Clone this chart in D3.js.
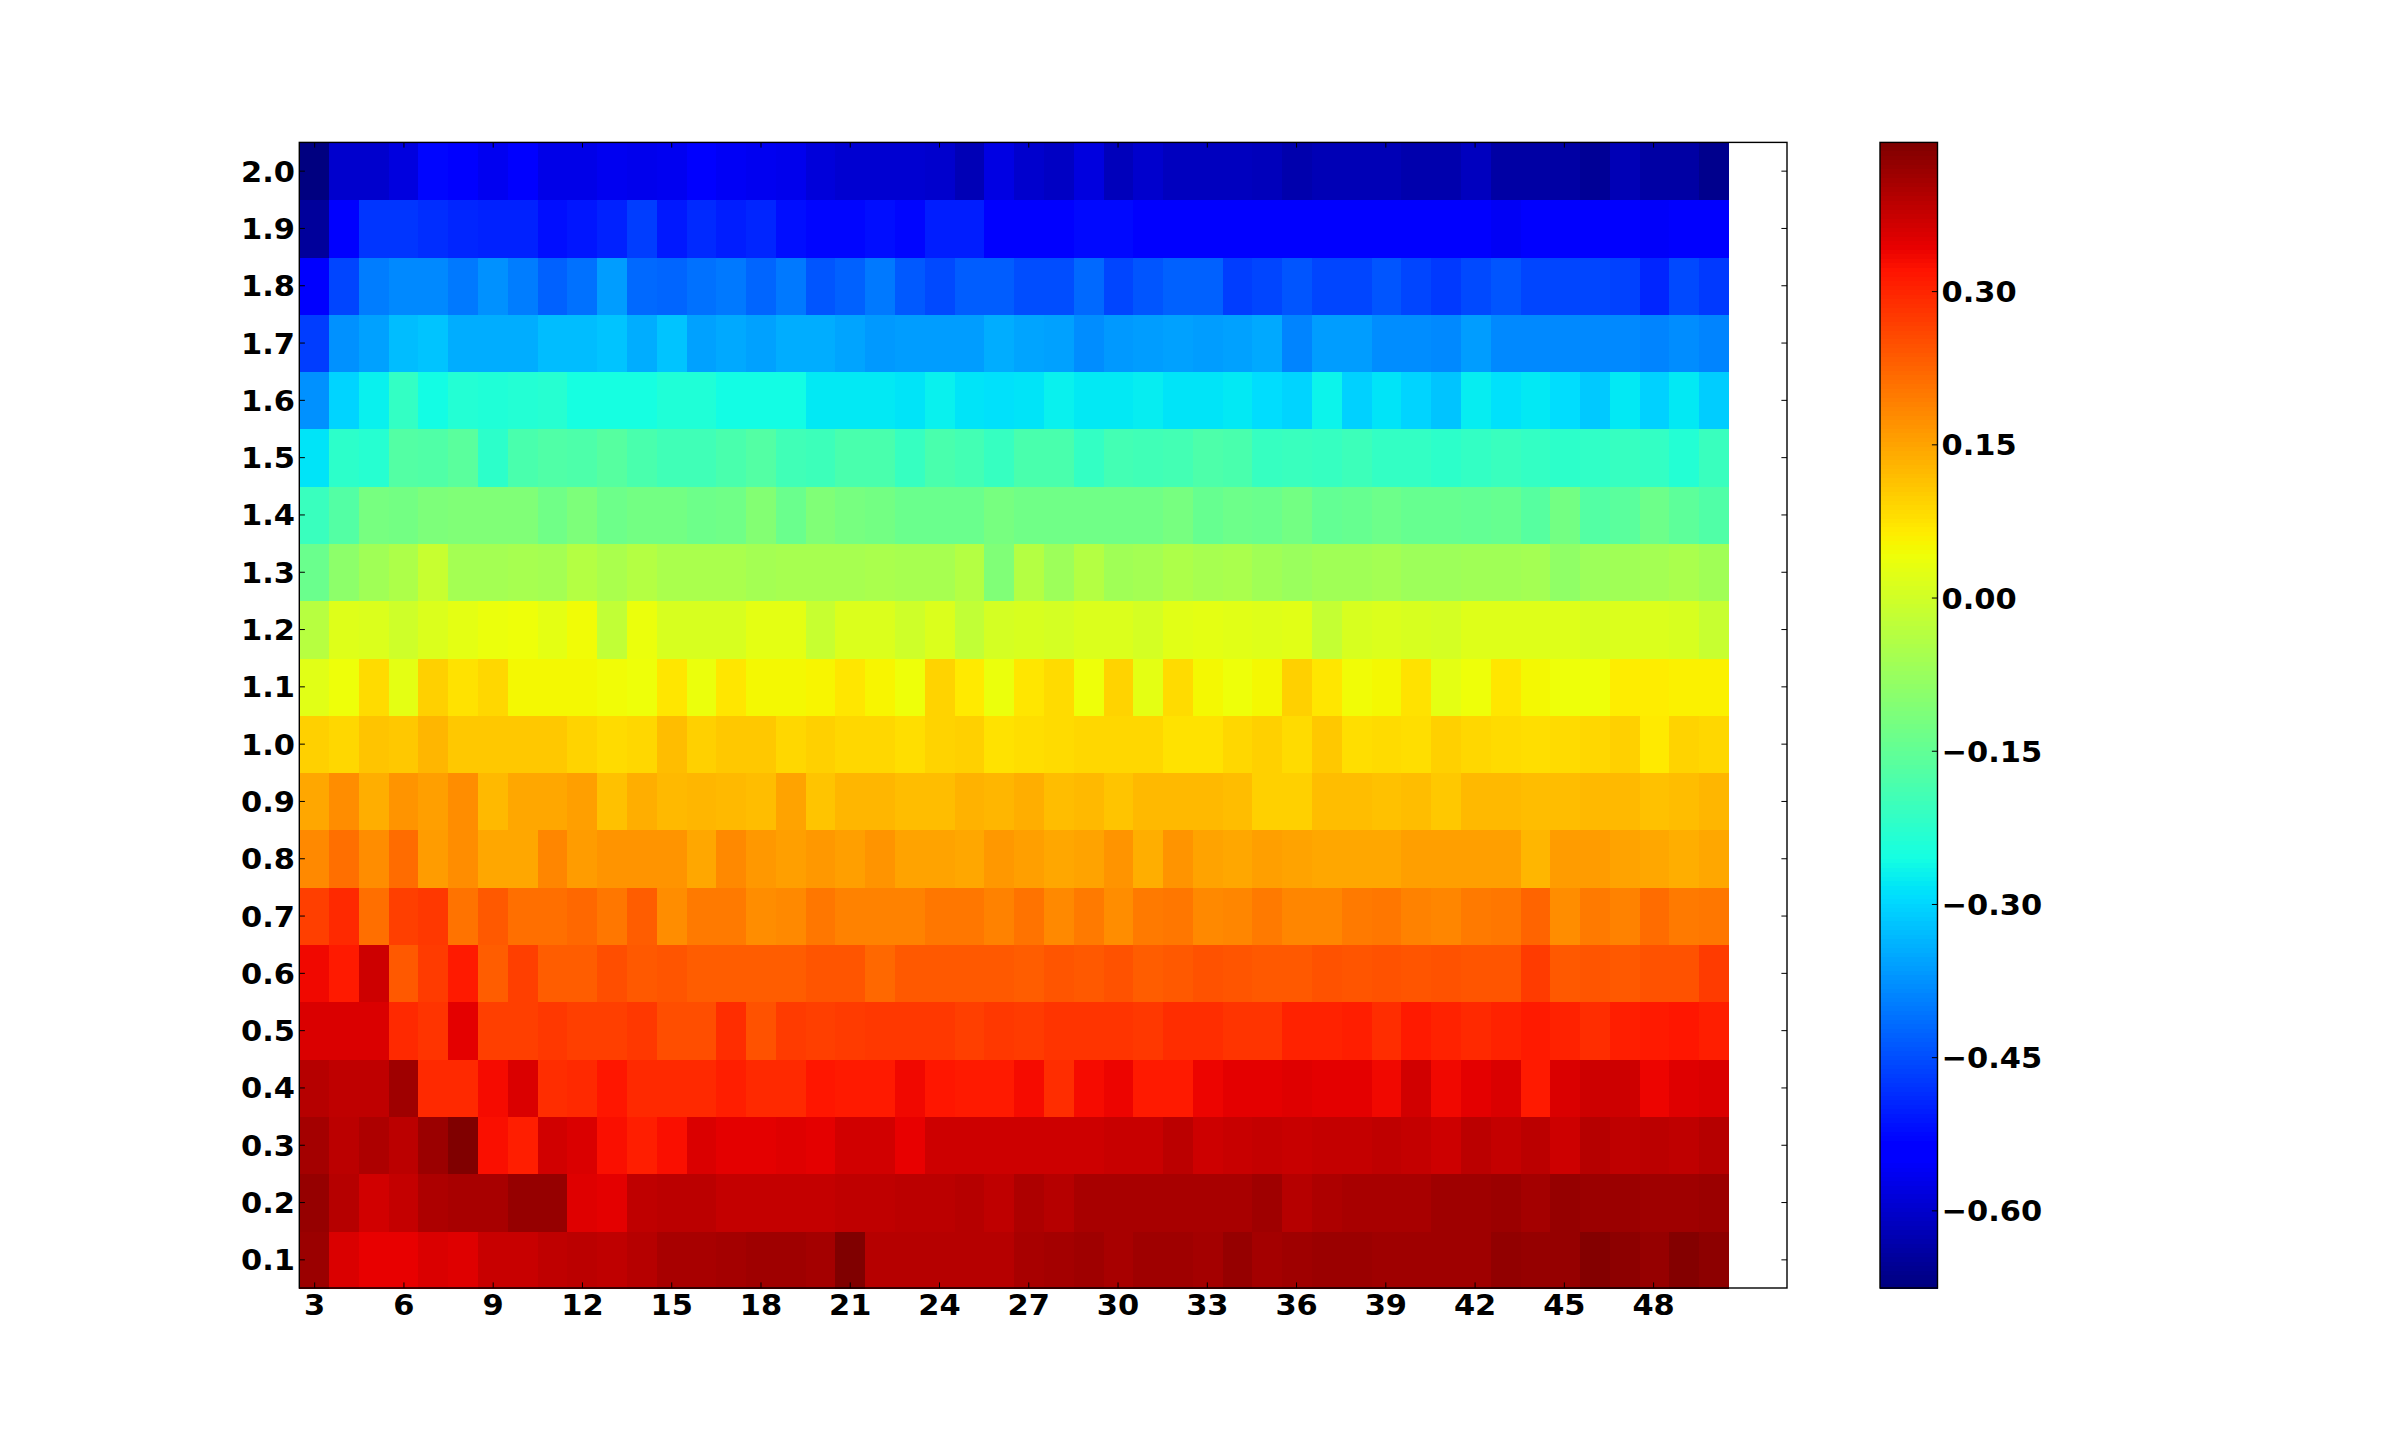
<!DOCTYPE html>
<html><head><meta charset="utf-8">
<script src="https://cdn.jsdelivr.net/npm/d3@7"></script>
<style>html,body{margin:0;padding:0;background:#fff}svg{display:block}</style></head><body>
<script>
const periods = d3.range(3, 51);
const levels = [0.1,0.2,0.3,0.4,0.5,0.6,0.7,0.8,0.9,1.0,1.1,1.2,1.3,1.4,1.5,1.6,1.7,1.8,1.9,2.0];
const xTicks = [3,6,9,12,15,18,21,24,27,30,33,36,39,42,45,48];
const cbTicks = [-0.60,-0.45,-0.30,-0.15,0,0.15,0.30];
const vMin = -0.676, vMax = 0.446;

const r20 = [-.676,-.60,-.60,-.585,-.53,-.55,-.565,-.54,-.575,-.575,-.565,-.57,-.565,-.55,-.56,-.565,-.57,-.59,-.595,-.595,-.595,-.60,-.625,-.58,-.60,-.61,-.585,-.62,-.60,-.615,-.615,-.615,-.62,-.63,-.625,-.625,-.625,-.63,-.63,-.615,-.64,-.64,-.64,-.655,-.625,-.64,-.64,-.665];
const r19 = [-.65,-.545,-.48,-.48,-.485,-.495,-.50,-.50,-.52,-.515,-.50,-.47,-.51,-.49,-.505,-.495,-.52,-.53,-.53,-.52,-.53,-.505,-.505,-.545,-.545,-.545,-.525,-.525,-.545,-.545,-.535,-.545,-.535,-.55,-.55,-.54,-.55,-.55,-.55,-.55,-.56,-.55,-.55,-.55,-.55,-.555,-.55,-.55];
const r18 = [-.55,-.46,-.40,-.385,-.385,-.405,-.375,-.40,-.43,-.41,-.365,-.42,-.425,-.41,-.405,-.425,-.405,-.445,-.43,-.405,-.44,-.455,-.435,-.435,-.45,-.45,-.42,-.46,-.445,-.43,-.43,-.47,-.46,-.445,-.46,-.46,-.445,-.46,-.475,-.455,-.445,-.46,-.46,-.46,-.465,-.495,-.455,-.475];
const r17 = [-.47,-.375,-.36,-.33,-.32,-.345,-.345,-.345,-.33,-.33,-.32,-.345,-.32,-.36,-.35,-.36,-.345,-.345,-.355,-.37,-.365,-.365,-.365,-.345,-.355,-.36,-.38,-.37,-.365,-.36,-.365,-.36,-.35,-.39,-.365,-.365,-.38,-.38,-.385,-.365,-.385,-.385,-.385,-.385,-.385,-.39,-.38,-.39];
const r16 = [-.375,-.30,-.27,-.215,-.26,-.235,-.24,-.235,-.23,-.255,-.255,-.255,-.24,-.24,-.26,-.26,-.26,-.28,-.28,-.28,-.285,-.27,-.285,-.29,-.285,-.27,-.28,-.28,-.275,-.285,-.285,-.28,-.295,-.30,-.265,-.305,-.285,-.30,-.32,-.275,-.29,-.28,-.295,-.315,-.28,-.305,-.28,-.31];
const r15 = [-.285,-.225,-.23,-.17,-.175,-.16,-.225,-.185,-.175,-.18,-.165,-.185,-.195,-.195,-.185,-.17,-.195,-.20,-.185,-.185,-.21,-.185,-.19,-.21,-.185,-.185,-.215,-.19,-.195,-.19,-.18,-.185,-.21,-.205,-.21,-.20,-.215,-.215,-.225,-.215,-.205,-.215,-.225,-.22,-.21,-.215,-.235,-.205];
const r14 = [-.205,-.17,-.12,-.125,-.115,-.11,-.11,-.11,-.13,-.115,-.135,-.125,-.125,-.135,-.13,-.105,-.14,-.11,-.12,-.125,-.14,-.14,-.14,-.12,-.13,-.13,-.13,-.13,-.13,-.12,-.145,-.135,-.14,-.125,-.15,-.145,-.135,-.145,-.145,-.15,-.145,-.165,-.125,-.17,-.16,-.135,-.155,-.175];
const r13 = [-.14,-.09,-.065,-.045,-.01,-.06,-.06,-.055,-.06,-.04,-.05,-.04,-.05,-.05,-.05,-.06,-.055,-.055,-.055,-.05,-.055,-.055,-.04,-.11,-.04,-.07,-.04,-.065,-.06,-.045,-.055,-.05,-.065,-.075,-.065,-.065,-.06,-.07,-.07,-.065,-.065,-.06,-.085,-.07,-.065,-.06,-.05,-.065];
const r12 = [-.035,.02,.015,-.005,.015,.03,.035,.04,.03,.045,-.02,.035,.01,.01,.01,.03,.03,-.01,.015,.015,-.005,.015,-.02,.005,.01,.005,.015,.015,.005,.025,.03,.025,.02,.025,-.015,.01,.015,.01,.005,.02,.02,.02,.02,.01,.015,.015,.01,-.01];
const r11 = [.025,.04,.085,.03,.10,.078,.088,.048,.048,.048,.045,.04,.073,.035,.073,.05,.05,.053,.073,.053,.04,.095,.068,.035,.073,.085,.043,.095,.03,.085,.048,.04,.048,.10,.073,.045,.048,.078,.03,.043,.073,.05,.043,.043,.063,.063,.058,.058];
const r10 = [.10,.09,.11,.105,.13,.105,.105,.105,.105,.095,.085,.09,.12,.10,.105,.105,.09,.10,.088,.088,.083,.095,.10,.078,.083,.085,.09,.09,.09,.078,.078,.088,.10,.085,.105,.083,.085,.083,.10,.088,.085,.083,.085,.09,.10,.068,.095,.09];
const r09 = [.145,.178,.14,.168,.155,.178,.125,.145,.145,.155,.115,.14,.125,.13,.125,.12,.15,.11,.13,.13,.12,.12,.135,.13,.14,.12,.125,.11,.125,.125,.125,.12,.10,.10,.12,.12,.115,.12,.105,.125,.125,.12,.12,.125,.125,.115,.12,.13];
const r08 = [.183,.213,.178,.218,.16,.178,.145,.145,.188,.158,.168,.168,.168,.145,.183,.163,.155,.163,.155,.168,.15,.15,.145,.163,.155,.145,.15,.168,.14,.168,.15,.145,.155,.15,.145,.145,.145,.155,.155,.155,.155,.13,.16,.158,.15,.145,.14,.145];
const r07 = [.27,.295,.213,.27,.28,.208,.238,.213,.213,.223,.203,.233,.178,.198,.198,.178,.183,.203,.193,.193,.193,.203,.203,.193,.208,.183,.198,.178,.198,.203,.183,.188,.198,.188,.188,.198,.203,.193,.188,.198,.203,.228,.178,.198,.193,.218,.198,.203];
const r06 = [.335,.315,.37,.238,.275,.315,.233,.27,.233,.233,.253,.238,.243,.233,.233,.233,.233,.243,.243,.223,.238,.238,.238,.238,.233,.243,.238,.248,.233,.238,.248,.243,.238,.238,.248,.243,.248,.243,.248,.243,.243,.275,.238,.243,.238,.248,.248,.275];
const r05 = [.36,.36,.36,.295,.285,.35,.27,.27,.28,.27,.27,.28,.253,.253,.29,.248,.275,.27,.275,.28,.28,.28,.27,.28,.275,.285,.285,.285,.28,.29,.29,.285,.285,.305,.305,.31,.29,.315,.305,.295,.305,.315,.305,.29,.31,.315,.32,.31];
const r04 = [.395,.385,.385,.415,.295,.295,.33,.36,.29,.295,.32,.295,.295,.295,.31,.295,.295,.32,.315,.315,.335,.32,.315,.315,.33,.29,.33,.34,.315,.315,.34,.35,.35,.355,.35,.35,.335,.365,.335,.35,.36,.315,.36,.37,.37,.34,.355,.36];
const r03 = [.41,.39,.40,.39,.42,.445,.325,.31,.365,.36,.325,.31,.325,.36,.35,.35,.355,.35,.365,.365,.345,.37,.37,.37,.37,.37,.37,.375,.375,.39,.37,.375,.38,.375,.38,.38,.385,.38,.37,.39,.38,.39,.37,.395,.385,.39,.385,.395];
const r02 = [.425,.395,.365,.38,.40,.405,.405,.425,.425,.355,.35,.385,.39,.39,.38,.38,.38,.38,.385,.385,.39,.39,.395,.385,.40,.395,.405,.405,.405,.405,.405,.405,.415,.395,.40,.405,.405,.405,.415,.415,.42,.41,.425,.42,.42,.415,.415,.42];
const r01 = [.42,.36,.345,.345,.36,.355,.375,.375,.385,.39,.385,.395,.405,.405,.41,.415,.415,.41,.446,.395,.395,.395,.395,.395,.405,.41,.415,.405,.415,.415,.41,.425,.41,.415,.42,.42,.415,.415,.415,.415,.43,.425,.425,.44,.435,.425,.44,.435];
const rows = [r01,r02,r03,r04,r05,r06,r07,r08,r09,r10,r11,r12,r13,r14,r15,r16,r17,r18,r19,r20];

// matplotlib "jet" segment tables
const jetR = d3.scaleLinear().domain([0,.35,.66,.89,1]).range([0,0,1,1,.5]);
const jetG = d3.scaleLinear().domain([0,.125,.375,.64,.91,1]).range([0,0,1,1,0,0]);
const jetB = d3.scaleLinear().domain([0,.11,.34,.65,1]).range([.5,1,1,0,0]);
const norm = d3.scaleLinear().domain([vMin,vMax]).range([0,1]).clamp(true);
const color = v => { const t = Math.round(norm(v)*255)/255;
  return `rgb(${Math.round(jetR(t)*255)},${Math.round(jetG(t)*255)},${Math.round(jetB(t)*255)})`; };

const svg = d3.select("body").append("svg").attr("width",2400).attr("height",1432);
const x = d3.scaleLinear().domain([2.5,52.5]).range([299.3,1787]);
const y = d3.scaleLinear().domain([0.05,2.05]).range([1288,142]);
const cb = d3.scaleLinear().domain([vMin,vMax]).range([1288,142]);
// the raster sits a pixel or so off the axis ticks in the source
const xCell = d3.scaleLinear().domain([2.5,50.5]).range([299.3,1729]);
const yCell = d3.scaleLinear().domain([0.05,2.05]).range([1288.8,143]);

const cells = [];
rows.forEach((r,i)=>r.forEach((v,j)=>cells.push({p:periods[j],l:levels[i],v})));
svg.append("g").attr("shape-rendering","crispEdges").selectAll("rect").data(cells).join("rect")
  .attr("x",d=>xCell(d.p-.5)).attr("width",d=>xCell(d.p+.5)-xCell(d.p-.5))
  .attr("y",d=>yCell(d.l+.05)).attr("height",d=>yCell(d.l-.05)-yCell(d.l+.05))
  .attr("fill",d=>color(d.v));

const tick = 5.6, fs = 29, sx = 1.05;
const styleAxis = g => { g.select(".domain").remove();
  g.selectAll("line").attr("stroke","#000").attr("stroke-width",1); };
const styleText = (g,tx,ty,anchor) => g.selectAll("text")
  .attr("x",0).attr("y",0).attr("dy",0).attr("text-anchor",anchor)
  .attr("transform",`translate(${tx},${ty}) scale(${sx},1)`)
  .attr("font-family","DejaVu Sans").attr("font-weight","bold").attr("font-size",fs).attr("fill","#000");

svg.append("g").attr("transform","translate(0,1288)")
  .call(d3.axisBottom(x).tickValues(xTicks).tickSize(-tick).tickFormat(d3.format("d"))).call(styleAxis)
  .call(g=>styleText(g,0,26.5,"middle"));
svg.append("g").attr("transform","translate(0,142)")
  .call(d3.axisTop(x).tickValues(xTicks).tickSize(-tick).tickFormat("")).call(styleAxis);
svg.append("g").attr("transform","translate(299.3,0)")
  .call(d3.axisLeft(y).tickValues(levels).tickSize(-tick).tickFormat(d3.format(".1f"))).call(styleAxis)
  .call(g=>styleText(g,-4.3,10.5,"end"));
svg.append("g").attr("transform","translate(1787,0)")
  .call(d3.axisRight(y).tickValues(levels).tickSize(-tick).tickFormat("")).call(styleAxis);
svg.append("rect").attr("x",299.3).attr("y",142.4).attr("width",1787-299.3).attr("height",1145.6)
  .attr("fill","none").attr("stroke","#000").attr("stroke-width",1.4);

// colour bar
const cbX0 = 1880, cbX1 = 1937.5;
const steps = d3.range(256);
svg.append("g").attr("shape-rendering","crispEdges").selectAll("rect").data(steps).join("rect")
  .attr("x",cbX0).attr("width",cbX1-cbX0)
  .attr("y",s=>cb(vMin+(vMax-vMin)*(s+1)/256)).attr("height",(1146/256)+.5)
  .attr("fill",s=>color(vMin+(vMax-vMin)*(s+.5)/256));
svg.append("g").attr("transform",`translate(${cbX1},0)`)
  .call(d3.axisRight(cb).tickValues(cbTicks).tickSize(-tick).tickFormat(d3.format(".2f"))).call(styleAxis)
  .call(g=>styleText(g,4,10.5,"start"));
svg.append("rect").attr("x",cbX0).attr("y",142.4).attr("width",cbX1-cbX0).attr("height",1145.6)
  .attr("fill","none").attr("stroke","#000").attr("stroke-width",1.4);
</script></body></html>
